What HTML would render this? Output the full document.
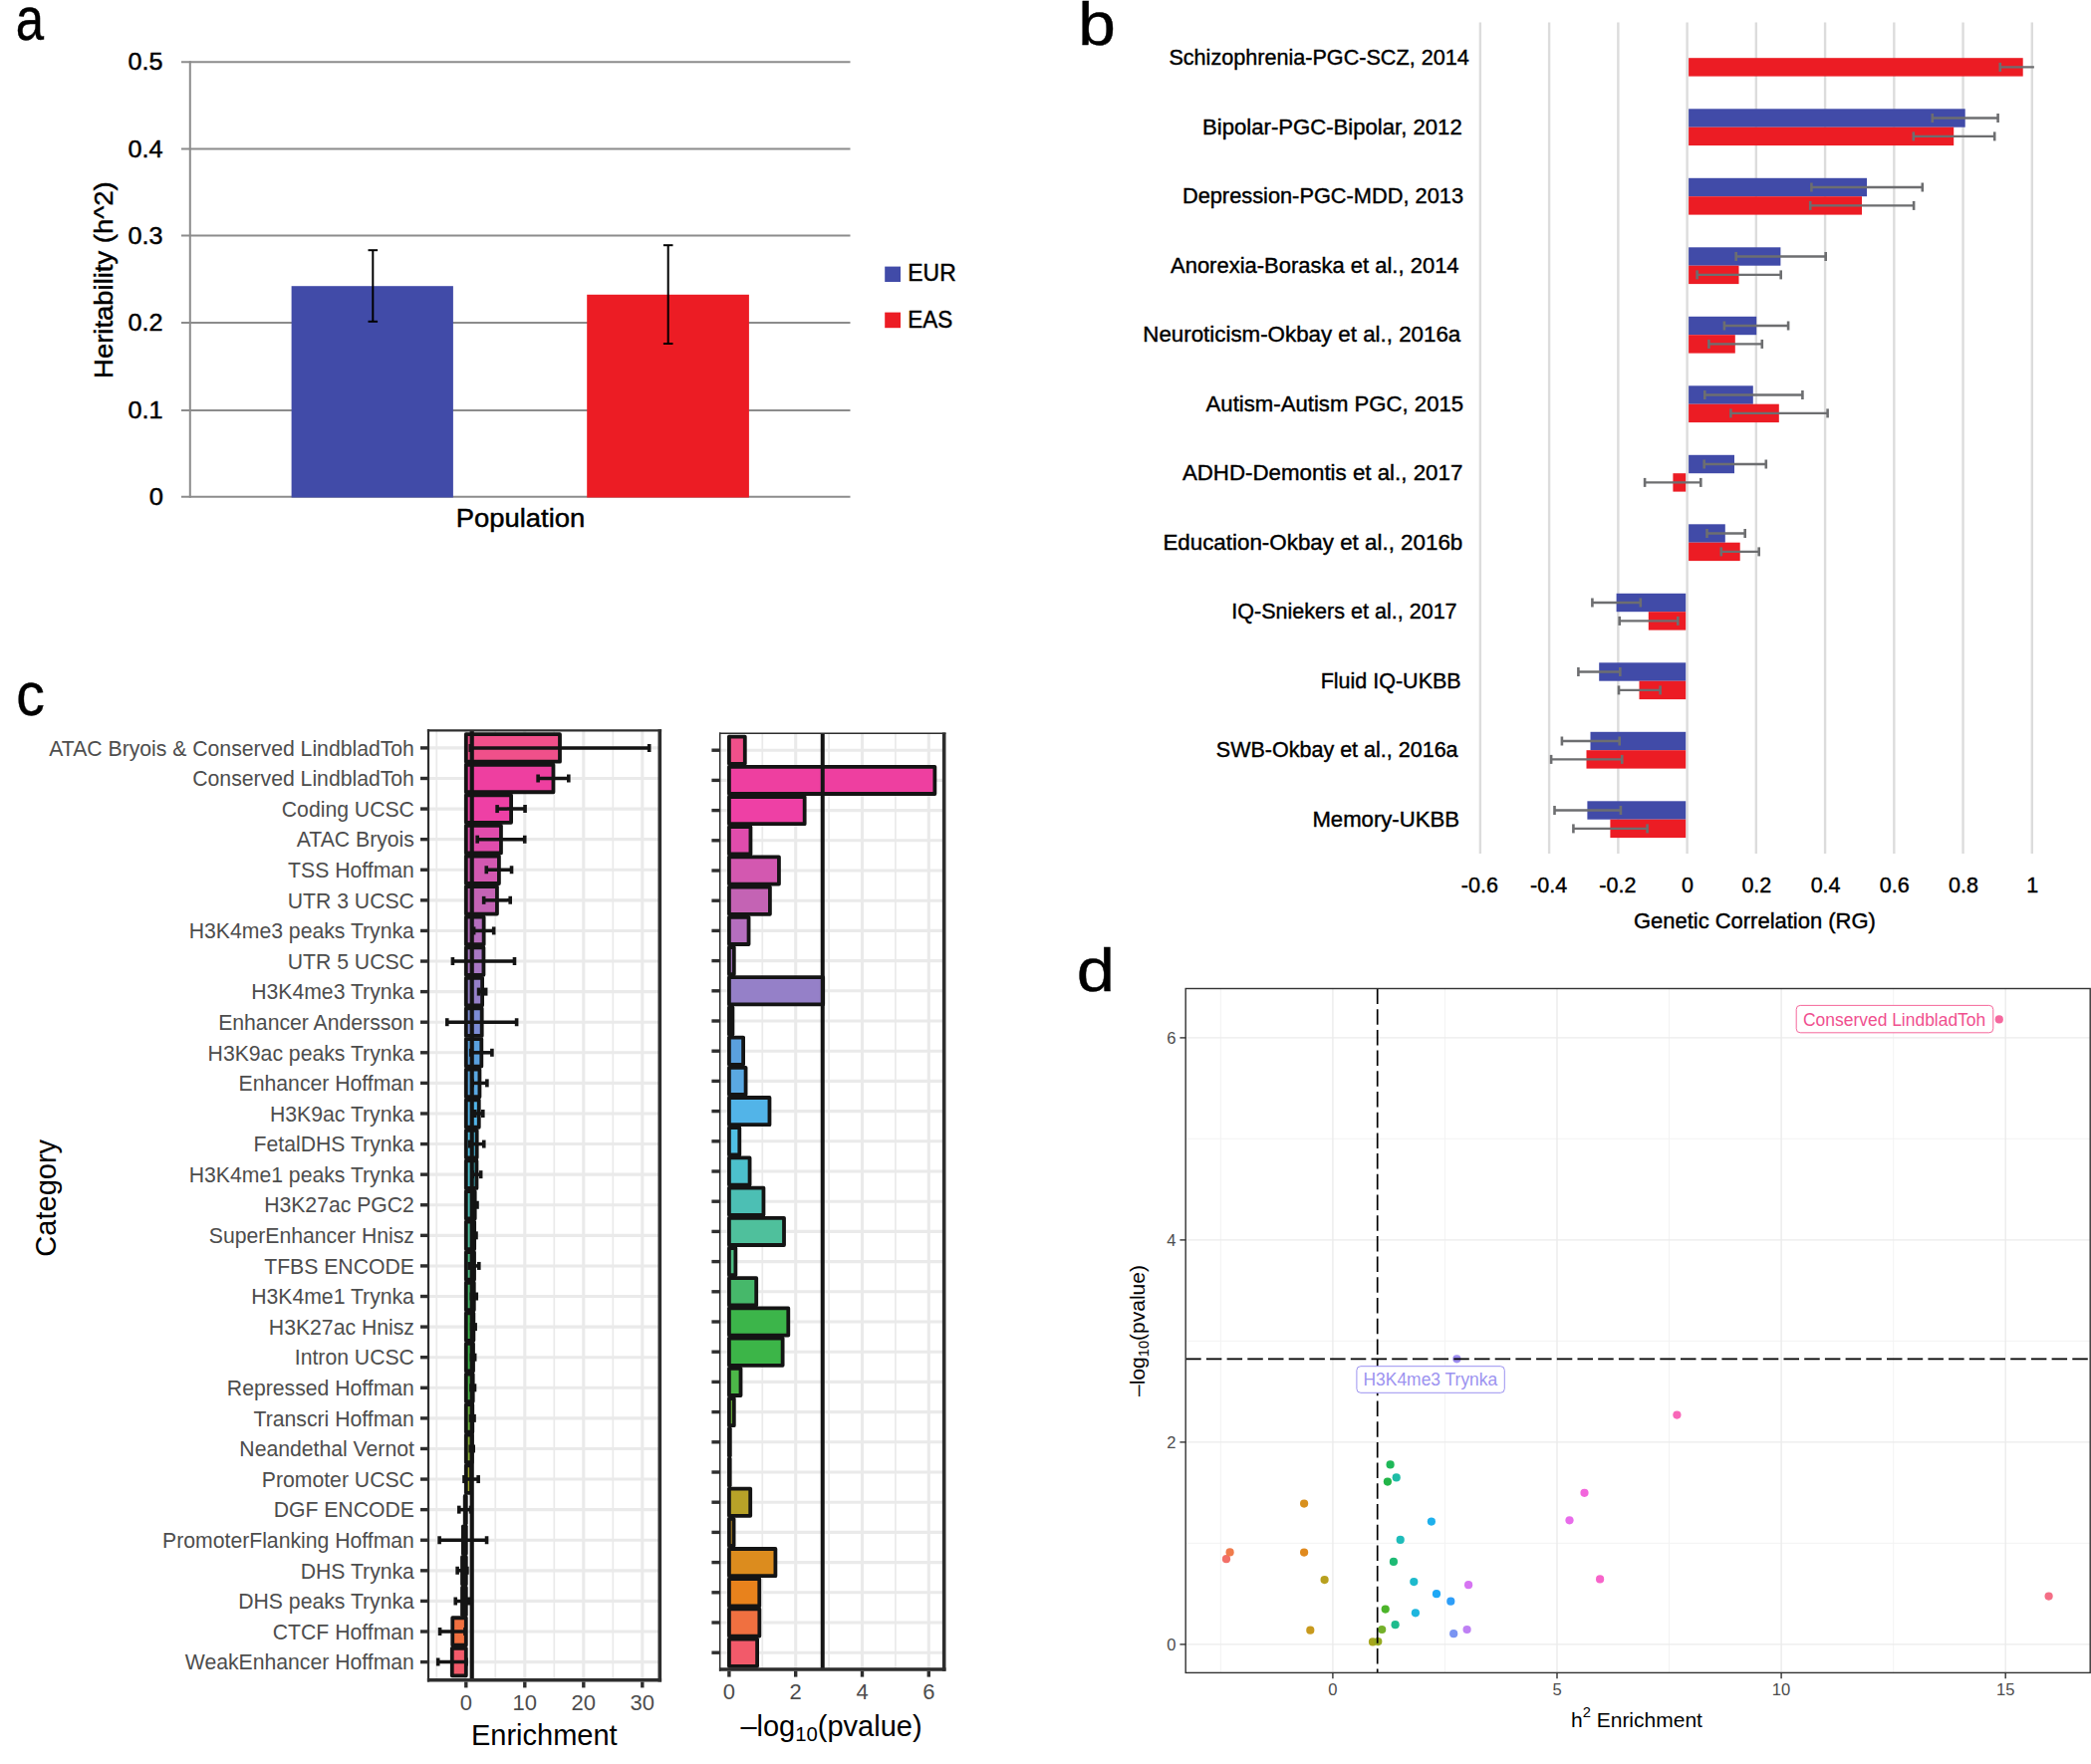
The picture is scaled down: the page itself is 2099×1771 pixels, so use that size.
<!DOCTYPE html>
<html lang="en"><head><meta charset="utf-8"><title>Figure</title>
<style>html,body{margin:0;padding:0;background:#fff}svg{display:block}text{font-family:"Liberation Sans",Arial,Helvetica,sans-serif}</style>
</head><body>
<svg width="2099" height="1771" viewBox="0 0 2099 1771">
<rect x="0" y="0" width="2099" height="1771" fill="#fff"/>
<g id="panel-a">
<line x1="182" y1="62.2" x2="853.5" y2="62.2" stroke="#8c8c8c" stroke-width="2"/>
<line x1="182" y1="149.6" x2="853.5" y2="149.6" stroke="#8c8c8c" stroke-width="2"/>
<line x1="182" y1="236.6" x2="853.5" y2="236.6" stroke="#8c8c8c" stroke-width="2"/>
<line x1="182" y1="324.1" x2="853.5" y2="324.1" stroke="#8c8c8c" stroke-width="2"/>
<line x1="182" y1="411.9" x2="853.5" y2="411.9" stroke="#8c8c8c" stroke-width="2"/>
<line x1="182" y1="498.7" x2="853.5" y2="498.7" stroke="#8c8c8c" stroke-width="2"/>
<line x1="190.8" y1="61.2" x2="190.8" y2="499.7" stroke="#8c8c8c" stroke-width="2"/>
<rect x="292.6" y="287.2" width="162.3" height="212.3" fill="#414BA8"/>
<rect x="589.2" y="295.8" width="162.7" height="203.7" fill="#EC1C24"/>
<line x1="374.3" y1="251.2" x2="374.3" y2="322.8" stroke="#000" stroke-width="2"/>
<line x1="369.5" y1="251.2" x2="379.1" y2="251.2" stroke="#000" stroke-width="2"/>
<line x1="369.5" y1="322.8" x2="379.1" y2="322.8" stroke="#000" stroke-width="2"/>
<line x1="670.7" y1="246.2" x2="670.7" y2="345" stroke="#000" stroke-width="2"/>
<line x1="665.9" y1="246.2" x2="675.5" y2="246.2" stroke="#000" stroke-width="2"/>
<line x1="665.9" y1="345" x2="675.5" y2="345" stroke="#000" stroke-width="2"/>
<text x="163.4" y="70.3" font-size="23" fill="#000" stroke="#000" stroke-width="0.45" text-anchor="end" textLength="35" lengthAdjust="spacingAndGlyphs">0.5</text>
<text x="163.4" y="157.7" font-size="23" fill="#000" stroke="#000" stroke-width="0.45" text-anchor="end" textLength="35" lengthAdjust="spacingAndGlyphs">0.4</text>
<text x="163.4" y="244.7" font-size="23" fill="#000" stroke="#000" stroke-width="0.45" text-anchor="end" textLength="35" lengthAdjust="spacingAndGlyphs">0.3</text>
<text x="163.4" y="332.2" font-size="23" fill="#000" stroke="#000" stroke-width="0.45" text-anchor="end" textLength="35" lengthAdjust="spacingAndGlyphs">0.2</text>
<text x="163.4" y="420" font-size="23" fill="#000" stroke="#000" stroke-width="0.45" text-anchor="end" textLength="35" lengthAdjust="spacingAndGlyphs">0.1</text>
<text x="163.9" y="506.8" font-size="23" fill="#000" stroke="#000" stroke-width="0.45" text-anchor="end" textLength="14.2" lengthAdjust="spacingAndGlyphs">0</text>
<text x="522.5" y="528.5" font-size="25.5" fill="#000" stroke="#000" stroke-width="0.45" text-anchor="middle" textLength="129.5" lengthAdjust="spacingAndGlyphs">Population</text>
<text transform="translate(113.3,281.2) rotate(-90)" font-size="25.5" stroke="#000" stroke-width="0.45" text-anchor="middle" textLength="197.5" lengthAdjust="spacingAndGlyphs">Heritability (h^2)</text>
<rect x="888.2" y="267.6" width="15.8" height="15.4" fill="#414BA8"/>
<rect x="888.2" y="313.6" width="15.8" height="15.6" fill="#EC1C24"/>
<text x="911.3" y="282.4" font-size="24.2" fill="#000" stroke="#000" stroke-width="0.45" textLength="48.4" lengthAdjust="spacingAndGlyphs">EUR</text>
<text x="911.3" y="328.5" font-size="24.2" fill="#000" stroke="#000" stroke-width="0.45" textLength="45" lengthAdjust="spacingAndGlyphs">EAS</text>
</g>
<g id="panel-b">
<line x1="1485.88" y1="22.5" x2="1485.88" y2="857" stroke="#dcdcdc" stroke-width="2.4"/>
<line x1="1555.12" y1="22.5" x2="1555.12" y2="857" stroke="#dcdcdc" stroke-width="2.4"/>
<line x1="1624.36" y1="22.5" x2="1624.36" y2="857" stroke="#dcdcdc" stroke-width="2.4"/>
<line x1="1693.6" y1="22.5" x2="1693.6" y2="857" stroke="#dcdcdc" stroke-width="2.4"/>
<line x1="1762.84" y1="22.5" x2="1762.84" y2="857" stroke="#dcdcdc" stroke-width="2.4"/>
<line x1="1832.08" y1="22.5" x2="1832.08" y2="857" stroke="#dcdcdc" stroke-width="2.4"/>
<line x1="1901.32" y1="22.5" x2="1901.32" y2="857" stroke="#dcdcdc" stroke-width="2.4"/>
<line x1="1970.56" y1="22.5" x2="1970.56" y2="857" stroke="#dcdcdc" stroke-width="2.4"/>
<line x1="2039.8" y1="22.5" x2="2039.8" y2="857" stroke="#dcdcdc" stroke-width="2.4"/>
<text x="1173.4" y="65.2" font-size="22.3" fill="#000" stroke="#000" stroke-width="0.4" textLength="301.3" lengthAdjust="spacingAndGlyphs">Schizophrenia-PGC-SCZ, 2014</text>
<rect x="1695.1" y="58.2" width="335.6" height="18.4" fill="#EC1C24"/>
<line x1="2007.8" y1="67.4" x2="2041.9" y2="67.4" stroke="#6d6e70" stroke-width="2.4"/>
<line x1="2007.8" y1="62.9" x2="2007.8" y2="71.9" stroke="#6d6e70" stroke-width="2.6"/>
<text x="1207.1" y="134.7" font-size="22.3" fill="#000" stroke="#000" stroke-width="0.4" textLength="260.6" lengthAdjust="spacingAndGlyphs">Bipolar-PGC-Bipolar, 2012</text>
<rect x="1695.1" y="109.3" width="277.6" height="18.4" fill="#414BA8"/>
<rect x="1695.1" y="127.7" width="266.1" height="18.4" fill="#EC1C24"/>
<line x1="1939.8" y1="118.5" x2="2005.6" y2="118.5" stroke="#6d6e70" stroke-width="2.4"/>
<line x1="1939.8" y1="114" x2="1939.8" y2="123" stroke="#6d6e70" stroke-width="2.6"/>
<line x1="2005.6" y1="114" x2="2005.6" y2="123" stroke="#6d6e70" stroke-width="2.6"/>
<line x1="1920.8" y1="136.9" x2="2002.2" y2="136.9" stroke="#6d6e70" stroke-width="2.4"/>
<line x1="1920.8" y1="132.4" x2="1920.8" y2="141.4" stroke="#6d6e70" stroke-width="2.6"/>
<line x1="2002.2" y1="132.4" x2="2002.2" y2="141.4" stroke="#6d6e70" stroke-width="2.6"/>
<text x="1186.9" y="204.2" font-size="22.3" fill="#000" stroke="#000" stroke-width="0.4" textLength="282.2" lengthAdjust="spacingAndGlyphs">Depression-PGC-MDD, 2013</text>
<rect x="1695.1" y="178.8" width="178.9" height="18.4" fill="#414BA8"/>
<rect x="1695.1" y="197.2" width="173.9" height="18.4" fill="#EC1C24"/>
<line x1="1818.4" y1="188" x2="1929.8" y2="188" stroke="#6d6e70" stroke-width="2.4"/>
<line x1="1818.4" y1="183.5" x2="1818.4" y2="192.5" stroke="#6d6e70" stroke-width="2.6"/>
<line x1="1929.8" y1="183.5" x2="1929.8" y2="192.5" stroke="#6d6e70" stroke-width="2.6"/>
<line x1="1817.2" y1="206.4" x2="1921.1" y2="206.4" stroke="#6d6e70" stroke-width="2.4"/>
<line x1="1817.2" y1="201.9" x2="1817.2" y2="210.9" stroke="#6d6e70" stroke-width="2.6"/>
<line x1="1921.1" y1="201.9" x2="1921.1" y2="210.9" stroke="#6d6e70" stroke-width="2.6"/>
<text x="1175" y="273.7" font-size="22.3" fill="#000" stroke="#000" stroke-width="0.4" textLength="289.6" lengthAdjust="spacingAndGlyphs">Anorexia-Boraska et al., 2014</text>
<rect x="1695.1" y="248.3" width="92.3" height="18.4" fill="#414BA8"/>
<rect x="1695.1" y="266.7" width="50.4" height="18.4" fill="#EC1C24"/>
<line x1="1742.7" y1="257.5" x2="1832.7" y2="257.5" stroke="#6d6e70" stroke-width="2.4"/>
<line x1="1742.7" y1="253" x2="1742.7" y2="262" stroke="#6d6e70" stroke-width="2.6"/>
<line x1="1832.7" y1="253" x2="1832.7" y2="262" stroke="#6d6e70" stroke-width="2.6"/>
<line x1="1703.6" y1="275.9" x2="1787.7" y2="275.9" stroke="#6d6e70" stroke-width="2.4"/>
<line x1="1703.6" y1="271.4" x2="1703.6" y2="280.4" stroke="#6d6e70" stroke-width="2.6"/>
<line x1="1787.7" y1="271.4" x2="1787.7" y2="280.4" stroke="#6d6e70" stroke-width="2.6"/>
<text x="1147.3" y="343.2" font-size="22.3" fill="#000" stroke="#000" stroke-width="0.4" textLength="319" lengthAdjust="spacingAndGlyphs">Neuroticism-Okbay et al., 2016a</text>
<rect x="1695.1" y="317.8" width="68.1" height="18.4" fill="#414BA8"/>
<rect x="1695.1" y="336.2" width="46.7" height="18.4" fill="#EC1C24"/>
<line x1="1730.9" y1="327" x2="1795.1" y2="327" stroke="#6d6e70" stroke-width="2.4"/>
<line x1="1730.9" y1="322.5" x2="1730.9" y2="331.5" stroke="#6d6e70" stroke-width="2.6"/>
<line x1="1795.1" y1="322.5" x2="1795.1" y2="331.5" stroke="#6d6e70" stroke-width="2.6"/>
<line x1="1715.4" y1="345.4" x2="1768.8" y2="345.4" stroke="#6d6e70" stroke-width="2.4"/>
<line x1="1715.4" y1="340.9" x2="1715.4" y2="349.9" stroke="#6d6e70" stroke-width="2.6"/>
<line x1="1768.8" y1="340.9" x2="1768.8" y2="349.9" stroke="#6d6e70" stroke-width="2.6"/>
<text x="1210.6" y="412.7" font-size="22.3" fill="#000" stroke="#000" stroke-width="0.4" textLength="258.5" lengthAdjust="spacingAndGlyphs">Autism-Autism PGC, 2015</text>
<rect x="1695.1" y="387.3" width="64.7" height="18.4" fill="#414BA8"/>
<rect x="1695.1" y="405.7" width="90.7" height="18.4" fill="#EC1C24"/>
<line x1="1711.3" y1="396.5" x2="1809.4" y2="396.5" stroke="#6d6e70" stroke-width="2.4"/>
<line x1="1711.3" y1="392" x2="1711.3" y2="401" stroke="#6d6e70" stroke-width="2.6"/>
<line x1="1809.4" y1="392" x2="1809.4" y2="401" stroke="#6d6e70" stroke-width="2.6"/>
<line x1="1737.4" y1="414.9" x2="1834.6" y2="414.9" stroke="#6d6e70" stroke-width="2.4"/>
<line x1="1737.4" y1="410.4" x2="1737.4" y2="419.4" stroke="#6d6e70" stroke-width="2.6"/>
<line x1="1834.6" y1="410.4" x2="1834.6" y2="419.4" stroke="#6d6e70" stroke-width="2.6"/>
<text x="1186.9" y="482.2" font-size="22.3" fill="#000" stroke="#000" stroke-width="0.4" textLength="281.4" lengthAdjust="spacingAndGlyphs">ADHD-Demontis et al., 2017</text>
<rect x="1695.1" y="456.8" width="45.9" height="18.4" fill="#414BA8"/>
<rect x="1679.4" y="475.2" width="12.8" height="18.4" fill="#EC1C24"/>
<line x1="1710.7" y1="466" x2="1772.8" y2="466" stroke="#6d6e70" stroke-width="2.4"/>
<line x1="1710.7" y1="461.5" x2="1710.7" y2="470.5" stroke="#6d6e70" stroke-width="2.6"/>
<line x1="1772.8" y1="461.5" x2="1772.8" y2="470.5" stroke="#6d6e70" stroke-width="2.6"/>
<line x1="1651.1" y1="484.4" x2="1707.3" y2="484.4" stroke="#6d6e70" stroke-width="2.4"/>
<line x1="1651.1" y1="479.9" x2="1651.1" y2="488.9" stroke="#6d6e70" stroke-width="2.6"/>
<line x1="1707.3" y1="479.9" x2="1707.3" y2="488.9" stroke="#6d6e70" stroke-width="2.6"/>
<text x="1167.4" y="551.7" font-size="22.3" fill="#000" stroke="#000" stroke-width="0.4" textLength="300.9" lengthAdjust="spacingAndGlyphs">Education-Okbay et al., 2016b</text>
<rect x="1695.1" y="526.3" width="36.7" height="18.4" fill="#414BA8"/>
<rect x="1695.1" y="544.7" width="51.6" height="18.4" fill="#EC1C24"/>
<line x1="1713.5" y1="535.5" x2="1751.7" y2="535.5" stroke="#6d6e70" stroke-width="2.4"/>
<line x1="1713.5" y1="531" x2="1713.5" y2="540" stroke="#6d6e70" stroke-width="2.6"/>
<line x1="1751.7" y1="531" x2="1751.7" y2="540" stroke="#6d6e70" stroke-width="2.6"/>
<line x1="1727.8" y1="553.9" x2="1765.7" y2="553.9" stroke="#6d6e70" stroke-width="2.4"/>
<line x1="1727.8" y1="549.4" x2="1727.8" y2="558.4" stroke="#6d6e70" stroke-width="2.6"/>
<line x1="1765.7" y1="549.4" x2="1765.7" y2="558.4" stroke="#6d6e70" stroke-width="2.6"/>
<text x="1236.3" y="621.2" font-size="22.3" fill="#000" stroke="#000" stroke-width="0.4" textLength="226.3" lengthAdjust="spacingAndGlyphs">IQ-Sniekers et al., 2017</text>
<rect x="1622.6" y="595.8" width="69.6" height="18.4" fill="#414BA8"/>
<rect x="1654.8" y="614.2" width="37.4" height="18.4" fill="#EC1C24"/>
<line x1="1598.4" y1="605" x2="1646.8" y2="605" stroke="#6d6e70" stroke-width="2.4"/>
<line x1="1598.4" y1="600.5" x2="1598.4" y2="609.5" stroke="#6d6e70" stroke-width="2.6"/>
<line x1="1646.8" y1="600.5" x2="1646.8" y2="609.5" stroke="#6d6e70" stroke-width="2.6"/>
<line x1="1625.7" y1="623.4" x2="1684.3" y2="623.4" stroke="#6d6e70" stroke-width="2.4"/>
<line x1="1625.7" y1="618.9" x2="1625.7" y2="627.9" stroke="#6d6e70" stroke-width="2.6"/>
<line x1="1684.3" y1="618.9" x2="1684.3" y2="627.9" stroke="#6d6e70" stroke-width="2.6"/>
<text x="1325.7" y="690.7" font-size="22.3" fill="#000" stroke="#000" stroke-width="0.4" textLength="141" lengthAdjust="spacingAndGlyphs">Fluid IQ-UKBB</text>
<rect x="1605.2" y="665.3" width="87" height="18.4" fill="#414BA8"/>
<rect x="1645.5" y="683.7" width="46.7" height="18.4" fill="#EC1C24"/>
<line x1="1584.4" y1="674.5" x2="1626.3" y2="674.5" stroke="#6d6e70" stroke-width="2.4"/>
<line x1="1584.4" y1="670" x2="1584.4" y2="679" stroke="#6d6e70" stroke-width="2.6"/>
<line x1="1626.3" y1="670" x2="1626.3" y2="679" stroke="#6d6e70" stroke-width="2.6"/>
<line x1="1625" y1="692.9" x2="1666.6" y2="692.9" stroke="#6d6e70" stroke-width="2.4"/>
<line x1="1625" y1="688.4" x2="1625" y2="697.4" stroke="#6d6e70" stroke-width="2.6"/>
<line x1="1666.6" y1="688.4" x2="1666.6" y2="697.4" stroke="#6d6e70" stroke-width="2.6"/>
<text x="1220.8" y="760.2" font-size="22.3" fill="#000" stroke="#000" stroke-width="0.4" textLength="242.8" lengthAdjust="spacingAndGlyphs">SWB-Okbay et al., 2016a</text>
<rect x="1596.5" y="734.8" width="95.7" height="18.4" fill="#414BA8"/>
<rect x="1592.5" y="753.2" width="99.7" height="18.4" fill="#EC1C24"/>
<line x1="1567.9" y1="744" x2="1625.7" y2="744" stroke="#6d6e70" stroke-width="2.4"/>
<line x1="1567.9" y1="739.5" x2="1567.9" y2="748.5" stroke="#6d6e70" stroke-width="2.6"/>
<line x1="1625.7" y1="739.5" x2="1625.7" y2="748.5" stroke="#6d6e70" stroke-width="2.6"/>
<line x1="1557.1" y1="762.4" x2="1628.2" y2="762.4" stroke="#6d6e70" stroke-width="2.4"/>
<line x1="1557.1" y1="757.9" x2="1557.1" y2="766.9" stroke="#6d6e70" stroke-width="2.6"/>
<line x1="1628.2" y1="757.9" x2="1628.2" y2="766.9" stroke="#6d6e70" stroke-width="2.6"/>
<text x="1317.4" y="829.7" font-size="22.3" fill="#000" stroke="#000" stroke-width="0.4" textLength="147.6" lengthAdjust="spacingAndGlyphs">Memory-UKBB</text>
<rect x="1593.4" y="804.3" width="98.8" height="18.4" fill="#414BA8"/>
<rect x="1616.4" y="822.7" width="75.8" height="18.4" fill="#EC1C24"/>
<line x1="1560.5" y1="813.5" x2="1626.9" y2="813.5" stroke="#6d6e70" stroke-width="2.4"/>
<line x1="1560.5" y1="809" x2="1560.5" y2="818" stroke="#6d6e70" stroke-width="2.6"/>
<line x1="1626.9" y1="809" x2="1626.9" y2="818" stroke="#6d6e70" stroke-width="2.6"/>
<line x1="1579.4" y1="831.9" x2="1653.6" y2="831.9" stroke="#6d6e70" stroke-width="2.4"/>
<line x1="1579.4" y1="827.4" x2="1579.4" y2="836.4" stroke="#6d6e70" stroke-width="2.6"/>
<line x1="1653.6" y1="827.4" x2="1653.6" y2="836.4" stroke="#6d6e70" stroke-width="2.6"/>
<text x="1485.38" y="895.9" font-size="21.5" fill="#000" stroke="#000" stroke-width="0.4" text-anchor="middle">-0.6</text>
<text x="1554.62" y="895.9" font-size="21.5" fill="#000" stroke="#000" stroke-width="0.4" text-anchor="middle">-0.4</text>
<text x="1623.86" y="895.9" font-size="21.5" fill="#000" stroke="#000" stroke-width="0.4" text-anchor="middle">-0.2</text>
<text x="1694.1" y="895.9" font-size="21.5" fill="#000" stroke="#000" stroke-width="0.4" text-anchor="middle">0</text>
<text x="1763.34" y="895.9" font-size="21.5" fill="#000" stroke="#000" stroke-width="0.4" text-anchor="middle">0.2</text>
<text x="1832.58" y="895.9" font-size="21.5" fill="#000" stroke="#000" stroke-width="0.4" text-anchor="middle">0.4</text>
<text x="1901.82" y="895.9" font-size="21.5" fill="#000" stroke="#000" stroke-width="0.4" text-anchor="middle">0.6</text>
<text x="1971.06" y="895.9" font-size="21.5" fill="#000" stroke="#000" stroke-width="0.4" text-anchor="middle">0.8</text>
<text x="2040.3" y="895.9" font-size="21.5" fill="#000" stroke="#000" stroke-width="0.4" text-anchor="middle">1</text>
<text x="1639.9" y="931.6" font-size="22.6" fill="#000" stroke="#000" stroke-width="0.4" textLength="243" lengthAdjust="spacingAndGlyphs">Genetic Correlation (RG)</text>
</g>
<g id="panel-c">
<clipPath id="cl"><rect x="430" y="733.3" width="232.3" height="953.5"/></clipPath>
<g clip-path="url(#cl)">
<line x1="438.3" y1="733.3" x2="438.3" y2="1686.8" stroke="#eaeaea" stroke-width="1.7"/>
<line x1="497.3" y1="733.3" x2="497.3" y2="1686.8" stroke="#eaeaea" stroke-width="1.7"/>
<line x1="556.3" y1="733.3" x2="556.3" y2="1686.8" stroke="#eaeaea" stroke-width="1.7"/>
<line x1="615.3" y1="733.3" x2="615.3" y2="1686.8" stroke="#eaeaea" stroke-width="1.7"/>
<line x1="467.8" y1="733.3" x2="467.8" y2="1686.8" stroke="#eaeaea" stroke-width="3.1"/>
<line x1="526.8" y1="733.3" x2="526.8" y2="1686.8" stroke="#eaeaea" stroke-width="3.1"/>
<line x1="585.8" y1="733.3" x2="585.8" y2="1686.8" stroke="#eaeaea" stroke-width="3.1"/>
<line x1="644.8" y1="733.3" x2="644.8" y2="1686.8" stroke="#eaeaea" stroke-width="3.1"/>
<line x1="430" y1="1668.6" x2="662.3" y2="1668.6" stroke="#eaeaea" stroke-width="3.1"/>
<line x1="430" y1="1638.01" x2="662.3" y2="1638.01" stroke="#eaeaea" stroke-width="3.1"/>
<line x1="430" y1="1607.42" x2="662.3" y2="1607.42" stroke="#eaeaea" stroke-width="3.1"/>
<line x1="430" y1="1576.83" x2="662.3" y2="1576.83" stroke="#eaeaea" stroke-width="3.1"/>
<line x1="430" y1="1546.24" x2="662.3" y2="1546.24" stroke="#eaeaea" stroke-width="3.1"/>
<line x1="430" y1="1515.65" x2="662.3" y2="1515.65" stroke="#eaeaea" stroke-width="3.1"/>
<line x1="430" y1="1485.06" x2="662.3" y2="1485.06" stroke="#eaeaea" stroke-width="3.1"/>
<line x1="430" y1="1454.47" x2="662.3" y2="1454.47" stroke="#eaeaea" stroke-width="3.1"/>
<line x1="430" y1="1423.88" x2="662.3" y2="1423.88" stroke="#eaeaea" stroke-width="3.1"/>
<line x1="430" y1="1393.29" x2="662.3" y2="1393.29" stroke="#eaeaea" stroke-width="3.1"/>
<line x1="430" y1="1362.7" x2="662.3" y2="1362.7" stroke="#eaeaea" stroke-width="3.1"/>
<line x1="430" y1="1332.11" x2="662.3" y2="1332.11" stroke="#eaeaea" stroke-width="3.1"/>
<line x1="430" y1="1301.52" x2="662.3" y2="1301.52" stroke="#eaeaea" stroke-width="3.1"/>
<line x1="430" y1="1270.93" x2="662.3" y2="1270.93" stroke="#eaeaea" stroke-width="3.1"/>
<line x1="430" y1="1240.34" x2="662.3" y2="1240.34" stroke="#eaeaea" stroke-width="3.1"/>
<line x1="430" y1="1209.75" x2="662.3" y2="1209.75" stroke="#eaeaea" stroke-width="3.1"/>
<line x1="430" y1="1179.16" x2="662.3" y2="1179.16" stroke="#eaeaea" stroke-width="3.1"/>
<line x1="430" y1="1148.57" x2="662.3" y2="1148.57" stroke="#eaeaea" stroke-width="3.1"/>
<line x1="430" y1="1117.98" x2="662.3" y2="1117.98" stroke="#eaeaea" stroke-width="3.1"/>
<line x1="430" y1="1087.39" x2="662.3" y2="1087.39" stroke="#eaeaea" stroke-width="3.1"/>
<line x1="430" y1="1056.8" x2="662.3" y2="1056.8" stroke="#eaeaea" stroke-width="3.1"/>
<line x1="430" y1="1026.21" x2="662.3" y2="1026.21" stroke="#eaeaea" stroke-width="3.1"/>
<line x1="430" y1="995.62" x2="662.3" y2="995.62" stroke="#eaeaea" stroke-width="3.1"/>
<line x1="430" y1="965.03" x2="662.3" y2="965.03" stroke="#eaeaea" stroke-width="3.1"/>
<line x1="430" y1="934.44" x2="662.3" y2="934.44" stroke="#eaeaea" stroke-width="3.1"/>
<line x1="430" y1="903.85" x2="662.3" y2="903.85" stroke="#eaeaea" stroke-width="3.1"/>
<line x1="430" y1="873.26" x2="662.3" y2="873.26" stroke="#eaeaea" stroke-width="3.1"/>
<line x1="430" y1="842.67" x2="662.3" y2="842.67" stroke="#eaeaea" stroke-width="3.1"/>
<line x1="430" y1="812.08" x2="662.3" y2="812.08" stroke="#eaeaea" stroke-width="3.1"/>
<line x1="430" y1="781.49" x2="662.3" y2="781.49" stroke="#eaeaea" stroke-width="3.1"/>
<line x1="430" y1="750.9" x2="662.3" y2="750.9" stroke="#eaeaea" stroke-width="3.1"/>
<rect x="453.79" y="1654.85" width="14.01" height="27.5" fill="#F25A6A" stroke="#141414" stroke-width="3.8" stroke-linejoin="round"/>
<rect x="454.26" y="1624.26" width="13.54" height="27.5" fill="#F07040" stroke="#141414" stroke-width="3.8" stroke-linejoin="round"/>
<rect x="464.03" y="1593.67" width="3.77" height="27.5" fill="#E8821C" stroke="#141414" stroke-width="3.8" stroke-linejoin="round"/>
<rect x="464.03" y="1563.08" width="3.77" height="27.5" fill="#DC8C1E" stroke="#141414" stroke-width="3.8" stroke-linejoin="round"/>
<rect x="464.84" y="1532.49" width="2.96" height="27.5" fill="#C8962A" stroke="#141414" stroke-width="3.8" stroke-linejoin="round"/>
<rect x="466.71" y="1501.9" width="1.09" height="27.5" fill="#B8A228" stroke="#141414" stroke-width="3.8" stroke-linejoin="round"/>
<rect x="467.8" y="1471.31" width="5.26" height="27.5" fill="#A0AA2C" stroke="#141414" stroke-width="3.8" stroke-linejoin="round"/>
<rect x="467.8" y="1440.72" width="5.95" height="27.5" fill="#88B034" stroke="#141414" stroke-width="3.8" stroke-linejoin="round"/>
<rect x="467.8" y="1410.13" width="6.46" height="27.5" fill="#6CB43C" stroke="#141414" stroke-width="3.8" stroke-linejoin="round"/>
<rect x="467.8" y="1379.54" width="6.92" height="27.5" fill="#4CB848" stroke="#141414" stroke-width="3.8" stroke-linejoin="round"/>
<rect x="467.8" y="1348.95" width="7.21" height="27.5" fill="#3CB548" stroke="#141414" stroke-width="3.8" stroke-linejoin="round"/>
<rect x="467.8" y="1318.36" width="7.56" height="27.5" fill="#3CB54A" stroke="#141414" stroke-width="3.8" stroke-linejoin="round"/>
<rect x="467.8" y="1287.77" width="7.99" height="27.5" fill="#46B86A" stroke="#141414" stroke-width="3.8" stroke-linejoin="round"/>
<rect x="467.8" y="1257.18" width="8.22" height="27.5" fill="#4CBC82" stroke="#141414" stroke-width="3.8" stroke-linejoin="round"/>
<rect x="467.8" y="1226.59" width="8.36" height="27.5" fill="#4FC09C" stroke="#141414" stroke-width="3.8" stroke-linejoin="round"/>
<rect x="467.8" y="1196" width="8.89" height="27.5" fill="#4CBFB4" stroke="#141414" stroke-width="3.8" stroke-linejoin="round"/>
<rect x="467.8" y="1165.41" width="10.67" height="27.5" fill="#4CC0CC" stroke="#141414" stroke-width="3.8" stroke-linejoin="round"/>
<rect x="467.8" y="1134.82" width="10.88" height="27.5" fill="#50C0E4" stroke="#141414" stroke-width="3.8" stroke-linejoin="round"/>
<rect x="467.8" y="1104.23" width="12.97" height="27.5" fill="#52B4E8" stroke="#141414" stroke-width="3.8" stroke-linejoin="round"/>
<rect x="467.8" y="1073.64" width="13.64" height="27.5" fill="#5AA8E2" stroke="#141414" stroke-width="3.8" stroke-linejoin="round"/>
<rect x="467.8" y="1043.05" width="15.52" height="27.5" fill="#5AA0DE" stroke="#141414" stroke-width="3.8" stroke-linejoin="round"/>
<rect x="467.8" y="1012.46" width="15.9" height="27.5" fill="#7C8CD4" stroke="#141414" stroke-width="3.8" stroke-linejoin="round"/>
<rect x="467.8" y="981.87" width="16.32" height="27.5" fill="#9580C8" stroke="#141414" stroke-width="3.8" stroke-linejoin="round"/>
<rect x="467.8" y="951.28" width="17.65" height="27.5" fill="#A878C4" stroke="#141414" stroke-width="3.8" stroke-linejoin="round"/>
<rect x="467.8" y="920.69" width="17.85" height="27.5" fill="#B56EBE" stroke="#141414" stroke-width="3.8" stroke-linejoin="round"/>
<rect x="467.8" y="890.1" width="31.14" height="27.5" fill="#C463B4" stroke="#141414" stroke-width="3.8" stroke-linejoin="round"/>
<rect x="467.8" y="859.51" width="33.1" height="27.5" fill="#D358B0" stroke="#141414" stroke-width="3.8" stroke-linejoin="round"/>
<rect x="467.8" y="828.92" width="35.15" height="27.5" fill="#E04CAC" stroke="#141414" stroke-width="3.8" stroke-linejoin="round"/>
<rect x="467.8" y="798.33" width="45.28" height="27.5" fill="#EE40A5" stroke="#141414" stroke-width="3.8" stroke-linejoin="round"/>
<rect x="467.8" y="767.74" width="87.66" height="27.5" fill="#EE3FA0" stroke="#141414" stroke-width="3.8" stroke-linejoin="round"/>
<rect x="467.8" y="737.15" width="94.19" height="27.5" fill="#F0508A" stroke="#141414" stroke-width="3.8" stroke-linejoin="round"/>
<line x1="439.69" y1="1668.6" x2="467.89" y2="1668.6" stroke="#141414" stroke-width="3.5"/>
<line x1="439.69" y1="1664.6" x2="439.69" y2="1672.6" stroke="#141414" stroke-width="3.6"/>
<line x1="467.89" y1="1664.6" x2="467.89" y2="1672.6" stroke="#141414" stroke-width="3.6"/>
<line x1="441.58" y1="1638.01" x2="466.95" y2="1638.01" stroke="#141414" stroke-width="3.5"/>
<line x1="441.58" y1="1634.01" x2="441.58" y2="1642.01" stroke="#141414" stroke-width="3.6"/>
<line x1="466.95" y1="1634.01" x2="466.95" y2="1642.01" stroke="#141414" stroke-width="3.6"/>
<line x1="457.24" y1="1607.42" x2="470.81" y2="1607.42" stroke="#141414" stroke-width="3.5"/>
<line x1="457.24" y1="1603.42" x2="457.24" y2="1611.42" stroke="#141414" stroke-width="3.6"/>
<line x1="470.81" y1="1603.42" x2="470.81" y2="1611.42" stroke="#141414" stroke-width="3.6"/>
<line x1="459.13" y1="1576.83" x2="468.92" y2="1576.83" stroke="#141414" stroke-width="3.5"/>
<line x1="459.13" y1="1572.83" x2="459.13" y2="1580.83" stroke="#141414" stroke-width="3.6"/>
<line x1="468.92" y1="1572.83" x2="468.92" y2="1580.83" stroke="#141414" stroke-width="3.6"/>
<line x1="441.12" y1="1546.24" x2="488.56" y2="1546.24" stroke="#141414" stroke-width="3.5"/>
<line x1="441.12" y1="1542.24" x2="441.12" y2="1550.24" stroke="#141414" stroke-width="3.6"/>
<line x1="488.56" y1="1542.24" x2="488.56" y2="1550.24" stroke="#141414" stroke-width="3.6"/>
<line x1="460.81" y1="1515.65" x2="472.61" y2="1515.65" stroke="#141414" stroke-width="3.5"/>
<line x1="460.81" y1="1511.65" x2="460.81" y2="1519.65" stroke="#141414" stroke-width="3.6"/>
<line x1="472.61" y1="1511.65" x2="472.61" y2="1519.65" stroke="#141414" stroke-width="3.6"/>
<line x1="465.98" y1="1485.06" x2="480.14" y2="1485.06" stroke="#141414" stroke-width="3.5"/>
<line x1="465.98" y1="1481.06" x2="465.98" y2="1489.06" stroke="#141414" stroke-width="3.6"/>
<line x1="480.14" y1="1481.06" x2="480.14" y2="1489.06" stroke="#141414" stroke-width="3.6"/>
<line x1="472.27" y1="1454.47" x2="475.22" y2="1454.47" stroke="#141414" stroke-width="3.5"/>
<line x1="472.27" y1="1450.47" x2="472.27" y2="1458.47" stroke="#141414" stroke-width="3.6"/>
<line x1="475.22" y1="1450.47" x2="475.22" y2="1458.47" stroke="#141414" stroke-width="3.6"/>
<line x1="472.49" y1="1423.88" x2="476.03" y2="1423.88" stroke="#141414" stroke-width="3.5"/>
<line x1="472.49" y1="1419.88" x2="472.49" y2="1427.88" stroke="#141414" stroke-width="3.6"/>
<line x1="476.03" y1="1419.88" x2="476.03" y2="1427.88" stroke="#141414" stroke-width="3.6"/>
<line x1="472.95" y1="1393.29" x2="476.49" y2="1393.29" stroke="#141414" stroke-width="3.5"/>
<line x1="472.95" y1="1389.29" x2="472.95" y2="1397.29" stroke="#141414" stroke-width="3.6"/>
<line x1="476.49" y1="1389.29" x2="476.49" y2="1397.29" stroke="#141414" stroke-width="3.6"/>
<line x1="473.36" y1="1362.7" x2="476.66" y2="1362.7" stroke="#141414" stroke-width="3.5"/>
<line x1="473.36" y1="1358.7" x2="473.36" y2="1366.7" stroke="#141414" stroke-width="3.6"/>
<line x1="476.66" y1="1358.7" x2="476.66" y2="1366.7" stroke="#141414" stroke-width="3.6"/>
<line x1="473.59" y1="1332.11" x2="477.13" y2="1332.11" stroke="#141414" stroke-width="3.5"/>
<line x1="473.59" y1="1328.11" x2="473.59" y2="1336.11" stroke="#141414" stroke-width="3.6"/>
<line x1="477.13" y1="1328.11" x2="477.13" y2="1336.11" stroke="#141414" stroke-width="3.6"/>
<line x1="473.32" y1="1301.52" x2="478.27" y2="1301.52" stroke="#141414" stroke-width="3.5"/>
<line x1="473.32" y1="1297.52" x2="473.32" y2="1305.52" stroke="#141414" stroke-width="3.6"/>
<line x1="478.27" y1="1297.52" x2="478.27" y2="1305.52" stroke="#141414" stroke-width="3.6"/>
<line x1="471.24" y1="1270.93" x2="480.8" y2="1270.93" stroke="#141414" stroke-width="3.5"/>
<line x1="471.24" y1="1266.93" x2="471.24" y2="1274.93" stroke="#141414" stroke-width="3.6"/>
<line x1="480.8" y1="1266.93" x2="480.8" y2="1274.93" stroke="#141414" stroke-width="3.6"/>
<line x1="474.33" y1="1240.34" x2="477.99" y2="1240.34" stroke="#141414" stroke-width="3.5"/>
<line x1="474.33" y1="1236.34" x2="474.33" y2="1244.34" stroke="#141414" stroke-width="3.6"/>
<line x1="477.99" y1="1236.34" x2="477.99" y2="1244.34" stroke="#141414" stroke-width="3.6"/>
<line x1="474.38" y1="1209.75" x2="478.99" y2="1209.75" stroke="#141414" stroke-width="3.5"/>
<line x1="474.38" y1="1205.75" x2="474.38" y2="1213.75" stroke="#141414" stroke-width="3.6"/>
<line x1="478.99" y1="1205.75" x2="478.99" y2="1213.75" stroke="#141414" stroke-width="3.6"/>
<line x1="474.28" y1="1179.16" x2="482.66" y2="1179.16" stroke="#141414" stroke-width="3.5"/>
<line x1="474.28" y1="1175.16" x2="474.28" y2="1183.16" stroke="#141414" stroke-width="3.6"/>
<line x1="482.66" y1="1175.16" x2="482.66" y2="1183.16" stroke="#141414" stroke-width="3.6"/>
<line x1="471.6" y1="1148.57" x2="485.76" y2="1148.57" stroke="#141414" stroke-width="3.5"/>
<line x1="471.6" y1="1144.57" x2="471.6" y2="1152.57" stroke="#141414" stroke-width="3.6"/>
<line x1="485.76" y1="1144.57" x2="485.76" y2="1152.57" stroke="#141414" stroke-width="3.6"/>
<line x1="476.76" y1="1117.98" x2="484.79" y2="1117.98" stroke="#141414" stroke-width="3.5"/>
<line x1="476.76" y1="1113.98" x2="476.76" y2="1121.98" stroke="#141414" stroke-width="3.6"/>
<line x1="484.79" y1="1113.98" x2="484.79" y2="1121.98" stroke="#141414" stroke-width="3.6"/>
<line x1="474.01" y1="1087.39" x2="488.88" y2="1087.39" stroke="#141414" stroke-width="3.5"/>
<line x1="474.01" y1="1083.39" x2="474.01" y2="1091.39" stroke="#141414" stroke-width="3.6"/>
<line x1="488.88" y1="1083.39" x2="488.88" y2="1091.39" stroke="#141414" stroke-width="3.6"/>
<line x1="472.76" y1="1056.8" x2="493.88" y2="1056.8" stroke="#141414" stroke-width="3.5"/>
<line x1="472.76" y1="1052.8" x2="472.76" y2="1060.8" stroke="#141414" stroke-width="3.6"/>
<line x1="493.88" y1="1052.8" x2="493.88" y2="1060.8" stroke="#141414" stroke-width="3.6"/>
<line x1="448.77" y1="1026.21" x2="518.62" y2="1026.21" stroke="#141414" stroke-width="3.5"/>
<line x1="448.77" y1="1022.21" x2="448.77" y2="1030.21" stroke="#141414" stroke-width="3.6"/>
<line x1="518.62" y1="1022.21" x2="518.62" y2="1030.21" stroke="#141414" stroke-width="3.6"/>
<line x1="480.58" y1="995.62" x2="487.66" y2="995.62" stroke="#141414" stroke-width="3.5"/>
<line x1="480.58" y1="991.62" x2="480.58" y2="999.62" stroke="#141414" stroke-width="3.6"/>
<line x1="487.66" y1="991.62" x2="487.66" y2="999.62" stroke="#141414" stroke-width="3.6"/>
<line x1="454.42" y1="965.03" x2="516.49" y2="965.03" stroke="#141414" stroke-width="3.5"/>
<line x1="454.42" y1="961.03" x2="454.42" y2="969.03" stroke="#141414" stroke-width="3.6"/>
<line x1="516.49" y1="961.03" x2="516.49" y2="969.03" stroke="#141414" stroke-width="3.6"/>
<line x1="475.62" y1="934.44" x2="495.68" y2="934.44" stroke="#141414" stroke-width="3.5"/>
<line x1="475.62" y1="930.44" x2="475.62" y2="938.44" stroke="#141414" stroke-width="3.6"/>
<line x1="495.68" y1="930.44" x2="495.68" y2="938.44" stroke="#141414" stroke-width="3.6"/>
<line x1="485.66" y1="903.85" x2="512.21" y2="903.85" stroke="#141414" stroke-width="3.5"/>
<line x1="485.66" y1="899.85" x2="485.66" y2="907.85" stroke="#141414" stroke-width="3.6"/>
<line x1="512.21" y1="899.85" x2="512.21" y2="907.85" stroke="#141414" stroke-width="3.6"/>
<line x1="488.28" y1="873.26" x2="513.53" y2="873.26" stroke="#141414" stroke-width="3.5"/>
<line x1="488.28" y1="869.26" x2="488.28" y2="877.26" stroke="#141414" stroke-width="3.6"/>
<line x1="513.53" y1="869.26" x2="513.53" y2="877.26" stroke="#141414" stroke-width="3.6"/>
<line x1="479.17" y1="842.67" x2="526.73" y2="842.67" stroke="#141414" stroke-width="3.5"/>
<line x1="479.17" y1="838.67" x2="479.17" y2="846.67" stroke="#141414" stroke-width="3.6"/>
<line x1="526.73" y1="838.67" x2="526.73" y2="846.67" stroke="#141414" stroke-width="3.6"/>
<line x1="499.1" y1="812.08" x2="527.06" y2="812.08" stroke="#141414" stroke-width="3.5"/>
<line x1="499.1" y1="808.08" x2="499.1" y2="816.08" stroke="#141414" stroke-width="3.6"/>
<line x1="527.06" y1="808.08" x2="527.06" y2="816.08" stroke="#141414" stroke-width="3.6"/>
<line x1="540.12" y1="781.49" x2="570.8" y2="781.49" stroke="#141414" stroke-width="3.5"/>
<line x1="540.12" y1="777.49" x2="540.12" y2="785.49" stroke="#141414" stroke-width="3.6"/>
<line x1="570.8" y1="777.49" x2="570.8" y2="785.49" stroke="#141414" stroke-width="3.6"/>
<line x1="472.31" y1="750.9" x2="651.67" y2="750.9" stroke="#141414" stroke-width="3.5"/>
<line x1="472.31" y1="746.9" x2="472.31" y2="754.9" stroke="#141414" stroke-width="3.6"/>
<line x1="651.67" y1="746.9" x2="651.67" y2="754.9" stroke="#141414" stroke-width="3.6"/>
<line x1="473.7" y1="733.3" x2="473.7" y2="1686.8" stroke="#141414" stroke-width="4.2"/>
</g>
<line x1="430" y1="732.2" x2="430" y2="1688.6" stroke="#2e2e2e" stroke-width="2.2"/>
<line x1="428.9" y1="733.3" x2="664.1" y2="733.3" stroke="#2e2e2e" stroke-width="2.2"/>
<line x1="662.3" y1="732.2" x2="662.3" y2="1688.6" stroke="#2e2e2e" stroke-width="3.6"/>
<line x1="428.9" y1="1686.8" x2="664.1" y2="1686.8" stroke="#2e2e2e" stroke-width="3.6"/>
<line x1="422" y1="1668.6" x2="429" y2="1668.6" stroke="#2e2e2e" stroke-width="3.4"/>
<text x="415.9" y="1676.3" font-size="21.2" fill="#4d4d4d" text-anchor="end">WeakEnhancer Hoffman</text>
<line x1="422" y1="1638.01" x2="429" y2="1638.01" stroke="#2e2e2e" stroke-width="3.4"/>
<text x="415.9" y="1645.71" font-size="21.2" fill="#4d4d4d" text-anchor="end">CTCF Hoffman</text>
<line x1="422" y1="1607.42" x2="429" y2="1607.42" stroke="#2e2e2e" stroke-width="3.4"/>
<text x="415.9" y="1615.12" font-size="21.2" fill="#4d4d4d" text-anchor="end">DHS peaks Trynka</text>
<line x1="422" y1="1576.83" x2="429" y2="1576.83" stroke="#2e2e2e" stroke-width="3.4"/>
<text x="415.9" y="1584.53" font-size="21.2" fill="#4d4d4d" text-anchor="end">DHS Trynka</text>
<line x1="422" y1="1546.24" x2="429" y2="1546.24" stroke="#2e2e2e" stroke-width="3.4"/>
<text x="415.9" y="1553.94" font-size="21.2" fill="#4d4d4d" text-anchor="end">PromoterFlanking Hoffman</text>
<line x1="422" y1="1515.65" x2="429" y2="1515.65" stroke="#2e2e2e" stroke-width="3.4"/>
<text x="415.9" y="1523.35" font-size="21.2" fill="#4d4d4d" text-anchor="end">DGF ENCODE</text>
<line x1="422" y1="1485.06" x2="429" y2="1485.06" stroke="#2e2e2e" stroke-width="3.4"/>
<text x="415.9" y="1492.76" font-size="21.2" fill="#4d4d4d" text-anchor="end">Promoter UCSC</text>
<line x1="422" y1="1454.47" x2="429" y2="1454.47" stroke="#2e2e2e" stroke-width="3.4"/>
<text x="415.9" y="1462.17" font-size="21.2" fill="#4d4d4d" text-anchor="end">Neandethal Vernot</text>
<line x1="422" y1="1423.88" x2="429" y2="1423.88" stroke="#2e2e2e" stroke-width="3.4"/>
<text x="415.9" y="1431.58" font-size="21.2" fill="#4d4d4d" text-anchor="end">Transcri Hoffman</text>
<line x1="422" y1="1393.29" x2="429" y2="1393.29" stroke="#2e2e2e" stroke-width="3.4"/>
<text x="415.9" y="1400.99" font-size="21.2" fill="#4d4d4d" text-anchor="end">Repressed Hoffman</text>
<line x1="422" y1="1362.7" x2="429" y2="1362.7" stroke="#2e2e2e" stroke-width="3.4"/>
<text x="415.9" y="1370.4" font-size="21.2" fill="#4d4d4d" text-anchor="end">Intron UCSC</text>
<line x1="422" y1="1332.11" x2="429" y2="1332.11" stroke="#2e2e2e" stroke-width="3.4"/>
<text x="415.9" y="1339.81" font-size="21.2" fill="#4d4d4d" text-anchor="end">H3K27ac Hnisz</text>
<line x1="422" y1="1301.52" x2="429" y2="1301.52" stroke="#2e2e2e" stroke-width="3.4"/>
<text x="415.9" y="1309.22" font-size="21.2" fill="#4d4d4d" text-anchor="end">H3K4me1 Trynka</text>
<line x1="422" y1="1270.93" x2="429" y2="1270.93" stroke="#2e2e2e" stroke-width="3.4"/>
<text x="415.9" y="1278.63" font-size="21.2" fill="#4d4d4d" text-anchor="end">TFBS ENCODE</text>
<line x1="422" y1="1240.34" x2="429" y2="1240.34" stroke="#2e2e2e" stroke-width="3.4"/>
<text x="415.9" y="1248.04" font-size="21.2" fill="#4d4d4d" text-anchor="end">SuperEnhancer Hnisz</text>
<line x1="422" y1="1209.75" x2="429" y2="1209.75" stroke="#2e2e2e" stroke-width="3.4"/>
<text x="415.9" y="1217.45" font-size="21.2" fill="#4d4d4d" text-anchor="end">H3K27ac PGC2</text>
<line x1="422" y1="1179.16" x2="429" y2="1179.16" stroke="#2e2e2e" stroke-width="3.4"/>
<text x="415.9" y="1186.86" font-size="21.2" fill="#4d4d4d" text-anchor="end">H3K4me1 peaks Trynka</text>
<line x1="422" y1="1148.57" x2="429" y2="1148.57" stroke="#2e2e2e" stroke-width="3.4"/>
<text x="415.9" y="1156.27" font-size="21.2" fill="#4d4d4d" text-anchor="end">FetalDHS Trynka</text>
<line x1="422" y1="1117.98" x2="429" y2="1117.98" stroke="#2e2e2e" stroke-width="3.4"/>
<text x="415.9" y="1125.68" font-size="21.2" fill="#4d4d4d" text-anchor="end">H3K9ac Trynka</text>
<line x1="422" y1="1087.39" x2="429" y2="1087.39" stroke="#2e2e2e" stroke-width="3.4"/>
<text x="415.9" y="1095.09" font-size="21.2" fill="#4d4d4d" text-anchor="end">Enhancer Hoffman</text>
<line x1="422" y1="1056.8" x2="429" y2="1056.8" stroke="#2e2e2e" stroke-width="3.4"/>
<text x="415.9" y="1064.5" font-size="21.2" fill="#4d4d4d" text-anchor="end">H3K9ac peaks Trynka</text>
<line x1="422" y1="1026.21" x2="429" y2="1026.21" stroke="#2e2e2e" stroke-width="3.4"/>
<text x="415.9" y="1033.91" font-size="21.2" fill="#4d4d4d" text-anchor="end">Enhancer Andersson</text>
<line x1="422" y1="995.62" x2="429" y2="995.62" stroke="#2e2e2e" stroke-width="3.4"/>
<text x="415.9" y="1003.32" font-size="21.2" fill="#4d4d4d" text-anchor="end">H3K4me3 Trynka</text>
<line x1="422" y1="965.03" x2="429" y2="965.03" stroke="#2e2e2e" stroke-width="3.4"/>
<text x="415.9" y="972.73" font-size="21.2" fill="#4d4d4d" text-anchor="end">UTR 5 UCSC</text>
<line x1="422" y1="934.44" x2="429" y2="934.44" stroke="#2e2e2e" stroke-width="3.4"/>
<text x="415.9" y="942.14" font-size="21.2" fill="#4d4d4d" text-anchor="end">H3K4me3 peaks Trynka</text>
<line x1="422" y1="903.85" x2="429" y2="903.85" stroke="#2e2e2e" stroke-width="3.4"/>
<text x="415.9" y="911.55" font-size="21.2" fill="#4d4d4d" text-anchor="end">UTR 3 UCSC</text>
<line x1="422" y1="873.26" x2="429" y2="873.26" stroke="#2e2e2e" stroke-width="3.4"/>
<text x="415.9" y="880.96" font-size="21.2" fill="#4d4d4d" text-anchor="end">TSS Hoffman</text>
<line x1="422" y1="842.67" x2="429" y2="842.67" stroke="#2e2e2e" stroke-width="3.4"/>
<text x="415.9" y="850.37" font-size="21.2" fill="#4d4d4d" text-anchor="end">ATAC Bryois</text>
<line x1="422" y1="812.08" x2="429" y2="812.08" stroke="#2e2e2e" stroke-width="3.4"/>
<text x="415.9" y="819.78" font-size="21.2" fill="#4d4d4d" text-anchor="end">Coding UCSC</text>
<line x1="422" y1="781.49" x2="429" y2="781.49" stroke="#2e2e2e" stroke-width="3.4"/>
<text x="415.9" y="789.19" font-size="21.2" fill="#4d4d4d" text-anchor="end">Conserved LindbladToh</text>
<line x1="422" y1="750.9" x2="429" y2="750.9" stroke="#2e2e2e" stroke-width="3.4"/>
<text x="415.9" y="758.6" font-size="21.2" fill="#4d4d4d" text-anchor="end">ATAC Bryois &amp; Conserved LindbladToh</text>
<line x1="467.8" y1="1688.5" x2="467.8" y2="1694.4" stroke="#2e2e2e" stroke-width="3.4"/>
<text x="467.8" y="1716.7" font-size="22" fill="#4d4d4d" text-anchor="middle">0</text>
<line x1="526.8" y1="1688.5" x2="526.8" y2="1694.4" stroke="#2e2e2e" stroke-width="3.4"/>
<text x="526.8" y="1716.7" font-size="22" fill="#4d4d4d" text-anchor="middle">10</text>
<line x1="585.8" y1="1688.5" x2="585.8" y2="1694.4" stroke="#2e2e2e" stroke-width="3.4"/>
<text x="585.8" y="1716.7" font-size="22" fill="#4d4d4d" text-anchor="middle">20</text>
<line x1="644.8" y1="1688.5" x2="644.8" y2="1694.4" stroke="#2e2e2e" stroke-width="3.4"/>
<text x="644.8" y="1716.7" font-size="22" fill="#4d4d4d" text-anchor="middle">30</text>
<text x="546.3" y="1752.2" font-size="29" fill="#000" text-anchor="middle">Enrichment</text>
<text transform="translate(55.6,1202.8) rotate(-90)" font-size="29" text-anchor="middle">Category</text>
<clipPath id="cr"><rect x="722.7" y="736.3" width="225" height="939.7"/></clipPath>
<g clip-path="url(#cr)">
<line x1="765.3" y1="736.3" x2="765.3" y2="1676" stroke="#eaeaea" stroke-width="1.7"/>
<line x1="832.1" y1="736.3" x2="832.1" y2="1676" stroke="#eaeaea" stroke-width="1.7"/>
<line x1="898.9" y1="736.3" x2="898.9" y2="1676" stroke="#eaeaea" stroke-width="1.7"/>
<line x1="731.9" y1="736.3" x2="731.9" y2="1676" stroke="#eaeaea" stroke-width="3.1"/>
<line x1="798.7" y1="736.3" x2="798.7" y2="1676" stroke="#eaeaea" stroke-width="3.1"/>
<line x1="865.5" y1="736.3" x2="865.5" y2="1676" stroke="#eaeaea" stroke-width="3.1"/>
<line x1="932.3" y1="736.3" x2="932.3" y2="1676" stroke="#eaeaea" stroke-width="3.1"/>
<line x1="722.7" y1="1659.2" x2="947.7" y2="1659.2" stroke="#eaeaea" stroke-width="3.1"/>
<line x1="722.7" y1="1629" x2="947.7" y2="1629" stroke="#eaeaea" stroke-width="3.1"/>
<line x1="722.7" y1="1598.8" x2="947.7" y2="1598.8" stroke="#eaeaea" stroke-width="3.1"/>
<line x1="722.7" y1="1568.6" x2="947.7" y2="1568.6" stroke="#eaeaea" stroke-width="3.1"/>
<line x1="722.7" y1="1538.4" x2="947.7" y2="1538.4" stroke="#eaeaea" stroke-width="3.1"/>
<line x1="722.7" y1="1508.2" x2="947.7" y2="1508.2" stroke="#eaeaea" stroke-width="3.1"/>
<line x1="722.7" y1="1478" x2="947.7" y2="1478" stroke="#eaeaea" stroke-width="3.1"/>
<line x1="722.7" y1="1447.8" x2="947.7" y2="1447.8" stroke="#eaeaea" stroke-width="3.1"/>
<line x1="722.7" y1="1417.6" x2="947.7" y2="1417.6" stroke="#eaeaea" stroke-width="3.1"/>
<line x1="722.7" y1="1387.4" x2="947.7" y2="1387.4" stroke="#eaeaea" stroke-width="3.1"/>
<line x1="722.7" y1="1357.2" x2="947.7" y2="1357.2" stroke="#eaeaea" stroke-width="3.1"/>
<line x1="722.7" y1="1327" x2="947.7" y2="1327" stroke="#eaeaea" stroke-width="3.1"/>
<line x1="722.7" y1="1296.8" x2="947.7" y2="1296.8" stroke="#eaeaea" stroke-width="3.1"/>
<line x1="722.7" y1="1266.6" x2="947.7" y2="1266.6" stroke="#eaeaea" stroke-width="3.1"/>
<line x1="722.7" y1="1236.4" x2="947.7" y2="1236.4" stroke="#eaeaea" stroke-width="3.1"/>
<line x1="722.7" y1="1206.2" x2="947.7" y2="1206.2" stroke="#eaeaea" stroke-width="3.1"/>
<line x1="722.7" y1="1176" x2="947.7" y2="1176" stroke="#eaeaea" stroke-width="3.1"/>
<line x1="722.7" y1="1145.8" x2="947.7" y2="1145.8" stroke="#eaeaea" stroke-width="3.1"/>
<line x1="722.7" y1="1115.6" x2="947.7" y2="1115.6" stroke="#eaeaea" stroke-width="3.1"/>
<line x1="722.7" y1="1085.4" x2="947.7" y2="1085.4" stroke="#eaeaea" stroke-width="3.1"/>
<line x1="722.7" y1="1055.2" x2="947.7" y2="1055.2" stroke="#eaeaea" stroke-width="3.1"/>
<line x1="722.7" y1="1025" x2="947.7" y2="1025" stroke="#eaeaea" stroke-width="3.1"/>
<line x1="722.7" y1="994.8" x2="947.7" y2="994.8" stroke="#eaeaea" stroke-width="3.1"/>
<line x1="722.7" y1="964.6" x2="947.7" y2="964.6" stroke="#eaeaea" stroke-width="3.1"/>
<line x1="722.7" y1="934.4" x2="947.7" y2="934.4" stroke="#eaeaea" stroke-width="3.1"/>
<line x1="722.7" y1="904.2" x2="947.7" y2="904.2" stroke="#eaeaea" stroke-width="3.1"/>
<line x1="722.7" y1="874" x2="947.7" y2="874" stroke="#eaeaea" stroke-width="3.1"/>
<line x1="722.7" y1="843.8" x2="947.7" y2="843.8" stroke="#eaeaea" stroke-width="3.1"/>
<line x1="722.7" y1="813.6" x2="947.7" y2="813.6" stroke="#eaeaea" stroke-width="3.1"/>
<line x1="722.7" y1="783.4" x2="947.7" y2="783.4" stroke="#eaeaea" stroke-width="3.1"/>
<line x1="722.7" y1="753.2" x2="947.7" y2="753.2" stroke="#eaeaea" stroke-width="3.1"/>
<rect x="731.9" y="1645.6" width="28.2" height="27.2" fill="#F25A6A" stroke="#141414" stroke-width="3.8" stroke-linejoin="round"/>
<rect x="731.9" y="1615.4" width="30.44" height="27.2" fill="#F07040" stroke="#141414" stroke-width="3.8" stroke-linejoin="round"/>
<rect x="731.9" y="1585.2" width="30.37" height="27.2" fill="#E8821C" stroke="#141414" stroke-width="3.8" stroke-linejoin="round"/>
<rect x="731.9" y="1555" width="46.5" height="27.2" fill="#DC8C1E" stroke="#141414" stroke-width="3.8" stroke-linejoin="round"/>
<rect x="731.9" y="1524.8" width="4.67" height="27.2" fill="#C8962A" stroke="#141414" stroke-width="3.8" stroke-linejoin="round"/>
<rect x="731.9" y="1494.6" width="21.32" height="27.2" fill="#B8A228" stroke="#141414" stroke-width="3.8" stroke-linejoin="round"/>
<rect x="731.9" y="1464.4" width="0.82" height="27.2" fill="#A0AA2C" stroke="#141414" stroke-width="3.8" stroke-linejoin="round"/>
<rect x="731.9" y="1434.2" width="0.92" height="27.2" fill="#88B034" stroke="#141414" stroke-width="3.8" stroke-linejoin="round"/>
<rect x="731.9" y="1404" width="4.9" height="27.2" fill="#6CB43C" stroke="#141414" stroke-width="3.8" stroke-linejoin="round"/>
<rect x="731.9" y="1373.8" width="11.62" height="27.2" fill="#4CB848" stroke="#141414" stroke-width="3.8" stroke-linejoin="round"/>
<rect x="731.9" y="1343.6" width="53.74" height="27.2" fill="#3CB548" stroke="#141414" stroke-width="3.8" stroke-linejoin="round"/>
<rect x="731.9" y="1313.4" width="59.4" height="27.2" fill="#3CB54A" stroke="#141414" stroke-width="3.8" stroke-linejoin="round"/>
<rect x="731.9" y="1283.2" width="27.31" height="27.2" fill="#46B86A" stroke="#141414" stroke-width="3.8" stroke-linejoin="round"/>
<rect x="731.9" y="1253" width="6.48" height="27.2" fill="#4CBC82" stroke="#141414" stroke-width="3.8" stroke-linejoin="round"/>
<rect x="731.9" y="1222.8" width="55.12" height="27.2" fill="#4FC09C" stroke="#141414" stroke-width="3.8" stroke-linejoin="round"/>
<rect x="731.9" y="1192.6" width="34.55" height="27.2" fill="#4CBFB4" stroke="#141414" stroke-width="3.8" stroke-linejoin="round"/>
<rect x="731.9" y="1162.4" width="20.67" height="27.2" fill="#4CC0CC" stroke="#141414" stroke-width="3.8" stroke-linejoin="round"/>
<rect x="731.9" y="1132.2" width="10.4" height="27.2" fill="#50C0E4" stroke="#141414" stroke-width="3.8" stroke-linejoin="round"/>
<rect x="731.9" y="1102" width="40.57" height="27.2" fill="#52B4E8" stroke="#141414" stroke-width="3.8" stroke-linejoin="round"/>
<rect x="731.9" y="1071.8" width="16.68" height="27.2" fill="#5AA8E2" stroke="#141414" stroke-width="3.8" stroke-linejoin="round"/>
<rect x="731.9" y="1041.6" width="14.22" height="27.2" fill="#5AA0DE" stroke="#141414" stroke-width="3.8" stroke-linejoin="round"/>
<rect x="731.9" y="1011.4" width="3.52" height="27.2" fill="#7C8CD4" stroke="#141414" stroke-width="3.8" stroke-linejoin="round"/>
<rect x="731.9" y="981.2" width="94.31" height="27.2" fill="#9580C8" stroke="#141414" stroke-width="3.8" stroke-linejoin="round"/>
<rect x="731.9" y="951" width="4.9" height="27.2" fill="#A878C4" stroke="#141414" stroke-width="3.8" stroke-linejoin="round"/>
<rect x="731.9" y="920.8" width="19.65" height="27.2" fill="#B56EBE" stroke="#141414" stroke-width="3.8" stroke-linejoin="round"/>
<rect x="731.9" y="890.6" width="41" height="27.2" fill="#C463B4" stroke="#141414" stroke-width="3.8" stroke-linejoin="round"/>
<rect x="731.9" y="860.4" width="50.05" height="27.2" fill="#D358B0" stroke="#141414" stroke-width="3.8" stroke-linejoin="round"/>
<rect x="731.9" y="830.2" width="21.55" height="27.2" fill="#E04CAC" stroke="#141414" stroke-width="3.8" stroke-linejoin="round"/>
<rect x="731.9" y="800" width="75.78" height="27.2" fill="#EE40A5" stroke="#141414" stroke-width="3.8" stroke-linejoin="round"/>
<rect x="731.9" y="769.8" width="206.49" height="27.2" fill="#EE3FA0" stroke="#141414" stroke-width="3.8" stroke-linejoin="round"/>
<rect x="731.9" y="739.6" width="15.89" height="27.2" fill="#F0508A" stroke="#141414" stroke-width="3.8" stroke-linejoin="round"/>
<line x1="825.75" y1="736.3" x2="825.75" y2="1676" stroke="#141414" stroke-width="4"/>
</g>
<line x1="722.7" y1="735.6" x2="722.7" y2="1677.7" stroke="#2e2e2e" stroke-width="1.5"/>
<line x1="722" y1="736.3" x2="949.4" y2="736.3" stroke="#2e2e2e" stroke-width="1.5"/>
<line x1="947.7" y1="735.5" x2="947.7" y2="1677.8" stroke="#2e2e2e" stroke-width="3.6"/>
<line x1="721.9" y1="1676" x2="949.5" y2="1676" stroke="#2e2e2e" stroke-width="3.6"/>
<line x1="714.4" y1="1659.2" x2="722" y2="1659.2" stroke="#2e2e2e" stroke-width="3.4"/>
<line x1="714.4" y1="1629" x2="722" y2="1629" stroke="#2e2e2e" stroke-width="3.4"/>
<line x1="714.4" y1="1598.8" x2="722" y2="1598.8" stroke="#2e2e2e" stroke-width="3.4"/>
<line x1="714.4" y1="1568.6" x2="722" y2="1568.6" stroke="#2e2e2e" stroke-width="3.4"/>
<line x1="714.4" y1="1538.4" x2="722" y2="1538.4" stroke="#2e2e2e" stroke-width="3.4"/>
<line x1="714.4" y1="1508.2" x2="722" y2="1508.2" stroke="#2e2e2e" stroke-width="3.4"/>
<line x1="714.4" y1="1478" x2="722" y2="1478" stroke="#2e2e2e" stroke-width="3.4"/>
<line x1="714.4" y1="1447.8" x2="722" y2="1447.8" stroke="#2e2e2e" stroke-width="3.4"/>
<line x1="714.4" y1="1417.6" x2="722" y2="1417.6" stroke="#2e2e2e" stroke-width="3.4"/>
<line x1="714.4" y1="1387.4" x2="722" y2="1387.4" stroke="#2e2e2e" stroke-width="3.4"/>
<line x1="714.4" y1="1357.2" x2="722" y2="1357.2" stroke="#2e2e2e" stroke-width="3.4"/>
<line x1="714.4" y1="1327" x2="722" y2="1327" stroke="#2e2e2e" stroke-width="3.4"/>
<line x1="714.4" y1="1296.8" x2="722" y2="1296.8" stroke="#2e2e2e" stroke-width="3.4"/>
<line x1="714.4" y1="1266.6" x2="722" y2="1266.6" stroke="#2e2e2e" stroke-width="3.4"/>
<line x1="714.4" y1="1236.4" x2="722" y2="1236.4" stroke="#2e2e2e" stroke-width="3.4"/>
<line x1="714.4" y1="1206.2" x2="722" y2="1206.2" stroke="#2e2e2e" stroke-width="3.4"/>
<line x1="714.4" y1="1176" x2="722" y2="1176" stroke="#2e2e2e" stroke-width="3.4"/>
<line x1="714.4" y1="1145.8" x2="722" y2="1145.8" stroke="#2e2e2e" stroke-width="3.4"/>
<line x1="714.4" y1="1115.6" x2="722" y2="1115.6" stroke="#2e2e2e" stroke-width="3.4"/>
<line x1="714.4" y1="1085.4" x2="722" y2="1085.4" stroke="#2e2e2e" stroke-width="3.4"/>
<line x1="714.4" y1="1055.2" x2="722" y2="1055.2" stroke="#2e2e2e" stroke-width="3.4"/>
<line x1="714.4" y1="1025" x2="722" y2="1025" stroke="#2e2e2e" stroke-width="3.4"/>
<line x1="714.4" y1="994.8" x2="722" y2="994.8" stroke="#2e2e2e" stroke-width="3.4"/>
<line x1="714.4" y1="964.6" x2="722" y2="964.6" stroke="#2e2e2e" stroke-width="3.4"/>
<line x1="714.4" y1="934.4" x2="722" y2="934.4" stroke="#2e2e2e" stroke-width="3.4"/>
<line x1="714.4" y1="904.2" x2="722" y2="904.2" stroke="#2e2e2e" stroke-width="3.4"/>
<line x1="714.4" y1="874" x2="722" y2="874" stroke="#2e2e2e" stroke-width="3.4"/>
<line x1="714.4" y1="843.8" x2="722" y2="843.8" stroke="#2e2e2e" stroke-width="3.4"/>
<line x1="714.4" y1="813.6" x2="722" y2="813.6" stroke="#2e2e2e" stroke-width="3.4"/>
<line x1="714.4" y1="783.4" x2="722" y2="783.4" stroke="#2e2e2e" stroke-width="3.4"/>
<line x1="714.4" y1="753.2" x2="722" y2="753.2" stroke="#2e2e2e" stroke-width="3.4"/>
<line x1="731.9" y1="1677.7" x2="731.9" y2="1683.6" stroke="#2e2e2e" stroke-width="3.4"/>
<text x="731.9" y="1706.2" font-size="22" fill="#4d4d4d" text-anchor="middle">0</text>
<line x1="798.7" y1="1677.7" x2="798.7" y2="1683.6" stroke="#2e2e2e" stroke-width="3.4"/>
<text x="798.7" y="1706.2" font-size="22" fill="#4d4d4d" text-anchor="middle">2</text>
<line x1="865.5" y1="1677.7" x2="865.5" y2="1683.6" stroke="#2e2e2e" stroke-width="3.4"/>
<text x="865.5" y="1706.2" font-size="22" fill="#4d4d4d" text-anchor="middle">4</text>
<line x1="932.3" y1="1677.7" x2="932.3" y2="1683.6" stroke="#2e2e2e" stroke-width="3.4"/>
<text x="932.3" y="1706.2" font-size="22" fill="#4d4d4d" text-anchor="middle">6</text>
<text x="834.5" y="1743" font-size="29" text-anchor="middle">–log<tspan font-size="20.3" dy="4.5">10</tspan><tspan dy="-4.5">(pvalue)</tspan></text>
</g>
<g id="panel-d">
<clipPath id="cd"><rect x="1190.2" y="992.5" width="908" height="686.9"/></clipPath>
<g clip-path="url(#cd)">
<line x1="1225.35" y1="992.5" x2="1225.35" y2="1679.4" stroke="#f2f2f2" stroke-width="0.9"/>
<line x1="1450.45" y1="992.5" x2="1450.45" y2="1679.4" stroke="#f2f2f2" stroke-width="0.9"/>
<line x1="1675.55" y1="992.5" x2="1675.55" y2="1679.4" stroke="#f2f2f2" stroke-width="0.9"/>
<line x1="1900.65" y1="992.5" x2="1900.65" y2="1679.4" stroke="#f2f2f2" stroke-width="0.9"/>
<line x1="1190.2" y1="1549.4" x2="2098.2" y2="1549.4" stroke="#f2f2f2" stroke-width="0.9"/>
<line x1="1190.2" y1="1346.4" x2="2098.2" y2="1346.4" stroke="#f2f2f2" stroke-width="0.9"/>
<line x1="1190.2" y1="1143.4" x2="2098.2" y2="1143.4" stroke="#f2f2f2" stroke-width="0.9"/>
<line x1="1337.9" y1="992.5" x2="1337.9" y2="1679.4" stroke="#ebebeb" stroke-width="1.4"/>
<line x1="1563" y1="992.5" x2="1563" y2="1679.4" stroke="#ebebeb" stroke-width="1.4"/>
<line x1="1788.1" y1="992.5" x2="1788.1" y2="1679.4" stroke="#ebebeb" stroke-width="1.4"/>
<line x1="2013.2" y1="992.5" x2="2013.2" y2="1679.4" stroke="#ebebeb" stroke-width="1.4"/>
<line x1="1190.2" y1="1650.9" x2="2098.2" y2="1650.9" stroke="#ebebeb" stroke-width="1.4"/>
<line x1="1190.2" y1="1447.9" x2="2098.2" y2="1447.9" stroke="#ebebeb" stroke-width="1.4"/>
<line x1="1190.2" y1="1244.9" x2="2098.2" y2="1244.9" stroke="#ebebeb" stroke-width="1.4"/>
<line x1="1190.2" y1="1041.9" x2="2098.2" y2="1041.9" stroke="#ebebeb" stroke-width="1.4"/>
<circle cx="1231" cy="1565.2" r="4.1" fill="#F27068"/>
<circle cx="1234.6" cy="1558.4" r="4.1" fill="#F07B4C"/>
<circle cx="1309.1" cy="1558.6" r="4.1" fill="#E08A1E"/>
<circle cx="1309.1" cy="1509.6" r="4.1" fill="#D8901E"/>
<circle cx="1315.3" cy="1636.7" r="4.1" fill="#C89A1E"/>
<circle cx="1329.6" cy="1586.1" r="4.1" fill="#B8A01E"/>
<circle cx="1378" cy="1648.4" r="4.1" fill="#A6A61E"/>
<circle cx="1383.3" cy="1648.1" r="4.1" fill="#96AA22"/>
<circle cx="1387.2" cy="1636" r="4.1" fill="#74B02A"/>
<circle cx="1390.7" cy="1615.6" r="4.1" fill="#4CB42A"/>
<circle cx="1392.9" cy="1487.6" r="4.1" fill="#22B548"/>
<circle cx="1395.6" cy="1470.4" r="4.1" fill="#1EB858"/>
<circle cx="1398.9" cy="1567.9" r="4.1" fill="#1EBA74"/>
<circle cx="1400.6" cy="1631.2" r="4.1" fill="#1EBC8E"/>
<circle cx="1401.7" cy="1483.4" r="4.1" fill="#1EBDA6"/>
<circle cx="1405.7" cy="1545.9" r="4.1" fill="#1EBCBA"/>
<circle cx="1419.3" cy="1588.1" r="4.1" fill="#1EBACC"/>
<circle cx="1420.9" cy="1619.3" r="4.1" fill="#1EB6DE"/>
<circle cx="1436.9" cy="1527.6" r="4.1" fill="#1EB0EC"/>
<circle cx="1442" cy="1600.2" r="4.1" fill="#1EA8F6"/>
<circle cx="1456.3" cy="1607.7" r="4.1" fill="#2E9EF8"/>
<circle cx="1459.2" cy="1640.2" r="4.1" fill="#7A94F2"/>
<circle cx="1462.4" cy="1364.3" r="4.1" fill="#9C8CF0"/>
<circle cx="1472.6" cy="1636" r="4.1" fill="#BE80F4"/>
<circle cx="1474.1" cy="1591.2" r="4.1" fill="#D674F2"/>
<circle cx="1575.5" cy="1526.3" r="4.1" fill="#E86CEA"/>
<circle cx="1590.5" cy="1498.8" r="4.1" fill="#F266DC"/>
<circle cx="1606.1" cy="1585.4" r="4.1" fill="#F764CA"/>
<circle cx="1683.4" cy="1420.6" r="4.1" fill="#F866B8"/>
<circle cx="2006.8" cy="1023.4" r="4.1" fill="#F5689E"/>
<circle cx="2056.6" cy="1602.6" r="4.1" fill="#F46E86"/>
<line x1="1382.7" y1="992.5" x2="1382.7" y2="1679.4" stroke="#000" stroke-width="1.7" stroke-dasharray="15.5 5.2"/>
<line x1="1190.2" y1="1364.4" x2="2098.2" y2="1364.4" stroke="#000" stroke-width="1.7" stroke-dasharray="15.5 5.2"/>
</g>
<rect x="1190.2" y="992.5" width="908" height="686.9" fill="none" stroke="#333333" stroke-width="1.4"/>
<rect x="1803.2" y="1009.4" width="197.6" height="27.4" rx="4" fill="#fff" stroke="#F5679B" stroke-width="1"/>
<text x="1810" y="1029.7" font-size="17.45" fill="#F0508F">Conserved LindbladToh</text>
<rect x="1361.9" y="1371.7" width="148.4" height="26.6" rx="4" fill="#fff" stroke="#9C93F0" stroke-width="1"/>
<text x="1368.5" y="1391" font-size="17.45" fill="#9C93F0">H3K4me3 Trynka</text>
<line x1="1337.9" y1="1679.4" x2="1337.9" y2="1685.2" stroke="#333333" stroke-width="1.4"/>
<text x="1337.9" y="1701.6" font-size="16.6" fill="#4d4d4d" text-anchor="middle">0</text>
<line x1="1563" y1="1679.4" x2="1563" y2="1685.2" stroke="#333333" stroke-width="1.4"/>
<text x="1563" y="1701.6" font-size="16.6" fill="#4d4d4d" text-anchor="middle">5</text>
<line x1="1788.1" y1="1679.4" x2="1788.1" y2="1685.2" stroke="#333333" stroke-width="1.4"/>
<text x="1788.1" y="1701.6" font-size="16.6" fill="#4d4d4d" text-anchor="middle">10</text>
<line x1="2013.2" y1="1679.4" x2="2013.2" y2="1685.2" stroke="#333333" stroke-width="1.4"/>
<text x="2013.2" y="1701.6" font-size="16.6" fill="#4d4d4d" text-anchor="middle">15</text>
<line x1="1184.4" y1="1650.9" x2="1190.2" y2="1650.9" stroke="#333333" stroke-width="1.4"/>
<text x="1180.6" y="1656.8" font-size="16.6" fill="#4d4d4d" text-anchor="end">0</text>
<line x1="1184.4" y1="1447.9" x2="1190.2" y2="1447.9" stroke="#333333" stroke-width="1.4"/>
<text x="1180.6" y="1453.8" font-size="16.6" fill="#4d4d4d" text-anchor="end">2</text>
<line x1="1184.4" y1="1244.9" x2="1190.2" y2="1244.9" stroke="#333333" stroke-width="1.4"/>
<text x="1180.6" y="1250.8" font-size="16.6" fill="#4d4d4d" text-anchor="end">4</text>
<line x1="1184.4" y1="1041.9" x2="1190.2" y2="1041.9" stroke="#333333" stroke-width="1.4"/>
<text x="1180.6" y="1047.8" font-size="16.6" fill="#4d4d4d" text-anchor="end">6</text>
<text x="1577" y="1733.5" font-size="21">h<tspan font-size="14.7" dy="-9.5">2</tspan><tspan dy="9.5"> Enrichment</tspan></text>
<text transform="translate(1149.2,1336) rotate(-90)" font-size="21" text-anchor="middle">–log<tspan font-size="14.7" dy="3.4">10</tspan><tspan dy="-3.4">(pvalue)</tspan></text>
</g>
<g id="letters">
<text x="15.8" y="40.3" font-size="62" fill="#000" stroke="#000" stroke-width="0.4" textLength="28.3" lengthAdjust="spacingAndGlyphs">a</text>
<text x="1082.3" y="45.4" font-size="62" fill="#000" stroke="#000" stroke-width="0.4" textLength="37.6" lengthAdjust="spacingAndGlyphs">b</text>
<text x="16.2" y="718.2" font-size="62" fill="#000" stroke="#000" stroke-width="0.4" textLength="28.6" lengthAdjust="spacingAndGlyphs">c</text>
<text x="1080.7" y="994.6" font-size="62" fill="#000" stroke="#000" stroke-width="0.4" textLength="38.2" lengthAdjust="spacingAndGlyphs">d</text>
</g>
</svg></body></html>
